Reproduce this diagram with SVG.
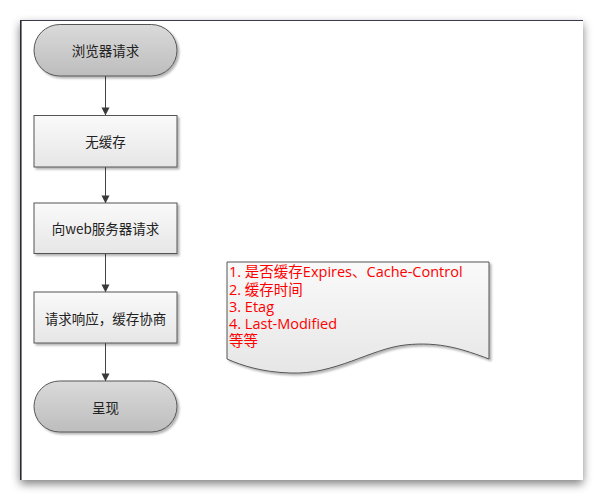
<svg xmlns="http://www.w3.org/2000/svg" width="603" height="500" viewBox="0 0 603 500">
<defs>
<filter id="pageShadow" x="-10%" y="-10%" width="120%" height="125%">
<feGaussianBlur in="SourceAlpha" stdDeviation="5"/>
<feOffset dx="0" dy="4" result="b"/>
<feComponentTransfer><feFuncA type="linear" slope="0.5"/></feComponentTransfer>
<feMerge><feMergeNode/><feMergeNode in="SourceGraphic"/></feMerge>
</filter>
<filter id="shapeShadow" x="-10%" y="-10%" width="125%" height="140%">
<feGaussianBlur in="SourceAlpha" stdDeviation="1.2"/>
<feOffset dx="1.5" dy="2" result="b"/>
<feComponentTransfer><feFuncA type="linear" slope="0.3"/></feComponentTransfer>
<feMerge><feMergeNode/><feMergeNode in="SourceGraphic"/></feMerge>
</filter>
<linearGradient id="gTerm" x1="0" y1="0" x2="0" y2="1">
<stop offset="0" stop-color="#dadada"/>
<stop offset="1" stop-color="#bdbdbd"/>
</linearGradient>
<linearGradient id="gProc" x1="0" y1="0" x2="0" y2="1">
<stop offset="0" stop-color="#fafafa"/>
<stop offset="1" stop-color="#e6e6e6"/>
</linearGradient>
<marker id="arrow" markerWidth="8" markerHeight="9" refX="7.6" refY="4" orient="auto" markerUnits="userSpaceOnUse">
<path d="M0,0 L8,4 L0,8 Z" fill="#3a3a3a"/>
</marker>
</defs>
<style>
.term{fill:url(#gTerm);stroke:#555;stroke-width:1;filter:url(#shapeShadow)}
.proc{fill:url(#gProc);stroke:#555;stroke-width:1;filter:url(#shapeShadow)}
.lbl{font-family:"Noto Sans CJK SC","Liberation Sans",sans-serif;font-size:13.5px;fill:#222;text-anchor:middle;dominant-baseline:central}
.note{font-family:"Open Sans","Noto Sans CJK SC",sans-serif;font-size:14.5px;fill:#ff0000}
.conn{stroke:#444;stroke-width:1;fill:none;marker-end:url(#arrow)}
</style>
<rect x="0" y="0" width="603" height="500" fill="#ffffff"/>
<g id="page">
<rect x="20" y="20" width="563" height="460" fill="#ffffff" filter="url(#pageShadow)"/>
<line x1="20" y1="20.5" x2="583" y2="20.5" stroke="#3a3a4a" stroke-width="1"/>
<line x1="20.8" y1="20" x2="20.8" y2="480" stroke="#2a2a35" stroke-width="1.6"/>
</g>
<g id="connectors">
<line class="conn" x1="105.5" y1="76" x2="105.5" y2="115"/>
<line class="conn" x1="105.5" y1="167" x2="105.5" y2="203"/>
<line class="conn" x1="105.5" y1="253" x2="105.5" y2="292"/>
<line class="conn" x1="105.5" y1="343" x2="105.5" y2="381"/>
</g>
<g id="n1">
<rect class="term" x="34" y="24.5" width="143" height="51.5" rx="25.75"/>
<text class="lbl" x="105.5" y="50">浏览器请求</text>
</g>
<g id="n2">
<rect class="proc" x="34" y="115.5" width="143" height="51.5"/>
<text class="lbl" x="105.5" y="141">无缓存</text>
</g>
<g id="n3">
<rect class="proc" x="34" y="203" width="143" height="50.5"/>
<text class="lbl" x="105.5" y="228">向web服务器请求</text>
</g>
<g id="n4">
<rect class="proc" x="34" y="292" width="143" height="51"/>
<text class="lbl" x="105.5" y="317.5">请求响应，缓存协商</text>
</g>
<g id="n5">
<rect class="term" x="34" y="381" width="143" height="51" rx="25.5"/>
<text class="lbl" x="105.5" y="406.5">呈现</text>
</g>
<g id="note">
<path d="M227,262 L489,262 L489,359 C465,350 440,341 405,345 C370,349 335,375 290,373 C262,372 243,366 227,359 Z" fill="url(#gProc)" stroke="#555" stroke-width="1" filter="url(#shapeShadow)"/>
<text class="note" x="229" y="277">1. 是否缓存Expires、Cache-Control</text>
<text class="note" x="229" y="294.5">2. 缓存时间</text>
<text class="note" x="229" y="311.5">3. Etag</text>
<text class="note" x="229" y="328.5">4. Last-Modified</text>
<text class="note" x="229" y="346">等等</text>
</g>
</svg>
